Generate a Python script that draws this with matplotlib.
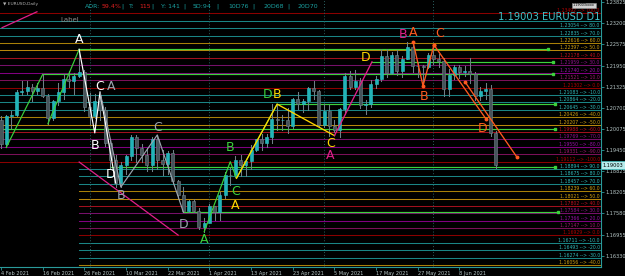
import numpy as np
import pandas as pd
import matplotlib
matplotlib.use("Agg")
import matplotlib.pyplot as plt
from matplotlib.transforms import blended_transform_factory

# EURUSD daily, 4 Feb 2021 .. 17 Jun 2021
opens = [1.2035, 1.1963, 1.2046, 1.2050, 1.2118, 1.2120, 1.2133, 1.2119, 1.2128, 1.2105,
         1.2040, 1.2090, 1.2118, 1.2155, 1.2150, 1.2165, 1.2175, 1.2074, 1.2047, 1.2091,
         1.2063, 1.1967, 1.1917, 1.1848, 1.1900, 1.1928, 1.1985, 1.1952, 1.1930, 1.1900,
         1.1978, 1.1916, 1.1904, 1.1937, 1.1853, 1.1812, 1.1766, 1.1795, 1.1764, 1.1717,
         1.1730, 1.1779, 1.1761, 1.1812, 1.1873, 1.1871, 1.1915, 1.1900, 1.1912, 1.1947,
         1.1978, 1.1966, 1.1983, 1.2037, 1.2034, 1.2034, 1.2015, 1.2097, 1.2081, 1.2089,
         1.2128, 1.2120, 1.2020, 1.2061, 1.2017, 1.2004, 1.2067, 1.2164, 1.2131, 1.2150,
         1.2078, 1.2081, 1.2142, 1.2155, 1.2223, 1.2174, 1.2226, 1.2180, 1.2215, 1.2249,
         1.2193, 1.2193, 1.2192, 1.2226, 1.2213, 1.2210, 1.2126, 1.2168, 1.2191, 1.2175,
         1.2180, 1.2171, 1.2106, 1.2120, 1.2125, 1.1996]
highs = [1.2047, 1.2050, 1.2060, 1.2124, 1.2149, 1.2150, 1.2142, 1.2144, 1.2169, 1.2110,
         1.2094, 1.2145, 1.2169, 1.2180, 1.2174, 1.2243, 1.2183, 1.2113, 1.2110, 1.2113,
         1.2072, 1.1977, 1.1931, 1.1910, 1.1931, 1.1990, 1.1989, 1.1962, 1.1952, 1.1985,
         1.1990, 1.1945, 1.1942, 1.1945, 1.1857, 1.1836, 1.1798, 1.1800, 1.1774, 1.1744,
         1.1786, 1.1780, 1.1820, 1.1880, 1.1893, 1.1928, 1.1930, 1.1916, 1.1960, 1.1979,
         1.1994, 1.1994, 1.2080, 1.2080, 1.2048, 1.2070, 1.2100, 1.2117, 1.2095, 1.2133,
         1.2150, 1.2124, 1.2080, 1.2078, 1.2035, 1.2071, 1.2173, 1.2180, 1.2181, 1.2158,
         1.2092, 1.2153, 1.2163, 1.2245, 1.2245, 1.2235, 1.2240, 1.2224, 1.2266, 1.2263,
         1.2206, 1.2196, 1.2232, 1.2254, 1.2229, 1.2218, 1.2185, 1.2196, 1.2196, 1.2194,
         1.2218, 1.2177, 1.2132, 1.2145, 1.2137, 1.2003]
lows = [1.1952, 1.1953, 1.2012, 1.2045, 1.2108, 1.2110, 1.2090, 1.2110, 1.2101, 1.2023,
        1.2034, 1.2078, 1.2096, 1.2133, 1.2112, 1.2161, 1.2062, 1.2023, 1.2040, 1.2033,
        1.1957, 1.1893, 1.1836, 1.1836, 1.1875, 1.1915, 1.1910, 1.1909, 1.1884, 1.1883,
        1.1890, 1.1873, 1.1875, 1.1845, 1.1803, 1.1761, 1.1763, 1.1762, 1.1711, 1.1704,
        1.1737, 1.1738, 1.1738, 1.1805, 1.1843, 1.1867, 1.1868, 1.1870, 1.1890, 1.1944,
        1.1945, 1.1955, 1.1965, 1.2006, 1.2005, 1.1995, 1.2011, 1.2068, 1.2059, 1.2065,
        1.2096, 1.2016, 1.2013, 1.1986, 1.1998, 1.1985, 1.2052, 1.2127, 1.2126, 1.2070,
        1.2051, 1.2074, 1.2129, 1.2150, 1.2162, 1.2171, 1.2167, 1.2160, 1.2213, 1.2176,
        1.2160, 1.2133, 1.2189, 1.2201, 1.2190, 1.2104, 1.2104, 1.2155, 1.2157, 1.2165,
        1.2144, 1.2093, 1.2092, 1.2095, 1.1986, 1.1892]
closes = opens[1:] + [1.19003]
dates = pd.bdate_range("2021-02-04", periods=len(opens))

# fibo levels (indicator levels, price -> %)
fib1_lvl = [100, 90, 80, 70, 60, 50, 40, 30, 20, 10, 0, -10, -20, -30, -40, -50, -60, -70, -80, -90, -100]
fib1_px = [1.23492, 1.23273, 1.23054, 1.22835, 1.22616, 1.22397, 1.22178, 1.21959, 1.21740, 1.21521,
           1.21302, 1.21083, 1.20864, 1.20645, 1.20426, 1.20207, 1.19988, 1.19769, 1.19550, 1.19331, 1.19112]
fib2_lvl = [90, 80, 70, 60, 50, 40, 30, 20, 10, 0, -10, -20, -30, -40]
fib2_px = [1.18894, 1.18675, 1.18457, 1.18239, 1.18021, 1.17802, 1.17584, 1.17366, 1.17147, 1.16929,
           1.16711, 1.16493, 1.16274, 1.16056]
hidden_lvl = 90  # label sits under the big symbol text

# harmonic patterns (bar index, price)
grn1_x, grn1_y = [1, 8], [1.1953, 1.2169]
grn2_x, grn2_y = [9, 15], [1.2023, 1.2243]
wht_x, wht_y = [15, 18, 19, 22], [1.2243, 1.1996, 1.2117, 1.1848]
gry_x, gry_y = [19, 23, 30, 35], [1.2117, 1.1836, 1.1990, 1.1762]
grn3_x, grn3_y = [39, 44, 45.2, 53], [1.1704, 1.1911, 1.1862, 1.2081]
yel_x, yel_y = [45.2, 53, 64], [1.1862, 1.2081, 1.1988]
mag_x, mag_y = [64, 71.2], [1.1988, 1.2206]
org_x, org_y = [79.1, 81, 83.1, 93.1], [1.2265, 1.2135, 1.2256, 1.2037]
org2_x, org2_y = [89.1, 99], [1.2146, 1.1925]
pink1_x, pink1_y = [0.2, 6.9], [1.2307, 1.2354]
pink2_x, pink2_y = [15, 34], [1.1910, 1.1694]

# green horizontal levels: (start, end, price)
hl_start = [8, 15, 71.2, 53, -1, 21, 35]
hl_end = [106, 105, 106, 106.3, 106.3, 106.3, 107]
hl_price = [1.2169, 1.2243, 1.2206, 1.2081, 1.2008, 1.1895, 1.1762]

yticks = [1.23825, 1.23200, 1.22575, 1.21950, 1.21325, 1.20700, 1.20075, 1.19450,
          1.18825, 1.18205, 1.17580, 1.16955, 1.16330]
date_ticks = [0, 8, 16, 24, 32, 40, 48, 56, 64, 72, 80, 88]
month_starts = [17, 40, 62, 83]

level_cols = {0: '#8b0000', 10: '#7a1058', 20: '#800080', 30: '#76106a', 40: '#a0101e',
              50: '#b8860b', 60: '#a88008', 70: '#1a8585', 80: '#1a8585', 90: '#1a8585'}
text_cols = {0: '#b00000', 10: '#a01870', 20: '#9a10a8', 30: '#90108a', 40: '#c01020',
             50: '#d0a010', 60: '#d0a010', 70: '#30b8b8', 80: '#30b8b8', 90: '#30b8b8'}

fig = plt.figure(figsize=(6.25, 2.76), dpi=100, facecolor='black')
ax = fig.add_axes([0, 9 / 276, 601 / 625, 267 / 276], facecolor='black')
xmin, xmax = -0.192, 115.16
ymin, ymax = 1.15998, 1.23888
ax.set_xlim(xmin, xmax)
ax.set_ylim(ymin, ymax)
tr = blended_transform_factory(ax.transAxes, ax.transData)

# fibo lines
for lvl, p in zip(fib1_lvl, fib1_px):
    k = lvl % 100
    ax.plot([xmin, xmax], [p, p], color=level_cols[k], lw=0.75, zorder=1)
    if lvl != hidden_lvl:
        ax.text(0.998, p, f"{p:.5f} --> {lvl:.1f}", transform=tr, ha='right', va='bottom',
                fontsize=3.3, color=text_cols[k], zorder=6)
for lvl, p in zip(fib2_lvl, fib2_px):
    k = lvl % 100
    ax.plot([15, xmax], [p, p], color=level_cols[k], lw=0.75, zorder=1)
    ax.text(0.998, p, f"{p:.5f} --> {lvl:.1f}", transform=tr, ha='right', va='bottom',
            fontsize=3.3, color=text_cols[k], zorder=6)

for m in month_starts:
    ax.axvline(m, color='#2a6060', lw=0.7, ls=(0, (1, 2)), zorder=1)

# green pattern levels
for s, e, p in zip(hl_start, hl_end, hl_price):
    ax.plot([s, e], [p, p], color='#3cd23c', lw=0.85, zorder=2)
    ax.plot([e], [p], marker='s', ms=1.6, color='#3cd23c', zorder=2)

# candles
bw = 0.58
for i, (o, h, l, c) in enumerate(zip(opens, highs, lows, closes)):
    up = c >= o
    ax.plot([i, i], [l, h], color='#6f7f86', lw=0.75, zorder=3)
    body_lo, body_h = min(o, c), max(abs(c - o), 0.00004)
    ax.add_patch(plt.Rectangle((i - bw / 2, body_lo), bw, body_h,
                               facecolor='#22b4b8' if up else '#46545b',
                               edgecolor='#2cc4c8' if up else '#74848b', lw=0.4, zorder=4))

# patterns
ax.plot(pink1_x, pink1_y, color='#e0208a', lw=0.9, zorder=5)
ax.plot(pink2_x, pink2_y, color='#e0208a', lw=0.9, zorder=5)
ax.plot(grn1_x, grn1_y, color='#3cd23c', lw=0.85, zorder=5)
ax.plot(grn2_x, grn2_y, color='#3cd23c', lw=0.85, zorder=5)
ax.plot(wht_x, wht_y, color='white', lw=0.85, zorder=5)
ax.plot(gry_x, gry_y, color='#9aa4ae', lw=0.85, zorder=5)
ax.plot(grn3_x, grn3_y, color='#3cd23c', lw=0.85, zorder=5)
ax.plot(yel_x, yel_y, color='#ffd700', lw=0.95, zorder=5)
ax.plot(mag_x, mag_y, color='#e0208a', lw=0.95, zorder=5)
ax.plot(org_x[:3], org_y[:3], color='#ff5a1f', lw=0.95, marker='o', ms=1.8, zorder=5)
ax.plot([org_x[2], org_x[3]], [org_y[2], org_y[3]], color='#ff5a1f', lw=0.95, marker='o', ms=1.8, zorder=5)
ax.plot(org2_x, org2_y, color='#ff5a1f', lw=0.95, marker='o', ms=1.8, zorder=5)

lab_kw = dict(fontsize=9, ha='center', va='center', zorder=7)
def lab(x, p, s, c):
    ax.text(x, p, s, color=c, **lab_kw)

lab(15, 1.2271, 'A', 'white')
lab(18, 1.1959, 'B', 'white')
lab(19, 1.2133, 'C', 'white')
lab(21, 1.1872, 'D', 'white')
lab(21.1, 1.2133, 'A', '#9aa4ae')
lab(23, 1.1810, 'B', '#9aa4ae')
lab(30, 1.2013, 'C', '#9aa4ae')
lab(35, 1.1726, 'D', '#9aa4ae')
lab(39, 1.1680, 'A', '#3cd23c')
lab(44, 1.1954, 'B', '#3cd23c')
lab(45, 1.1822, 'C', '#3cd23c')
lab(51.2, 1.2110, 'D', '#3cd23c')
lab(45, 1.1783, 'A', '#ffd700')
lab(53, 1.2110, 'B', '#ffd700')
lab(63.2, 1.1966, 'C', '#ffd700')
lab(70, 1.2218, 'D', '#ffd700')
lab(63.2, 1.1930, 'A', '#e0208a')
lab(77.2, 1.2288, 'B', '#e0208a')
lab(79.1, 1.2294, 'A', '#ff5a1f')
lab(81.2, 1.2103, 'B', '#ff5a1f')
lab(84.1, 1.2291, 'C', '#ff5a1f')
lab(92.5, 1.2010, 'D', '#ff5a1f')

# header texts
fig.text(3 / 625, 1 - 4 / 276, '\u25bc EURUSD,Daily', fontsize=3.2, color='#b0b0b0', va='center')
fig.text(60 / 625, 1 - 20 / 276, 'Label', fontsize=5, color='#8a8a8a', va='center')
hdr = [(85, 'ADR:', '#1aa0a0'), (102, '59.4%', '#e02020'), (121, '|', '#1aa0a0'),
       (129, 'T:', '#1aa0a0'), (139, '115', '#e02020'), (151.5, '|', '#1aa0a0'),
       (161, 'Y: 141', '#1aa0a0'), (183.5, '|', '#1aa0a0'), (193, '5D:94', '#1aa0a0'),
       (216, '|', '#1aa0a0'), (228, '10D76', '#1aa0a0'), (252, '|', '#1aa0a0'),
       (263, '20D68', '#1aa0a0'), (287, '|', '#1aa0a0'), (297, '20D70', '#1aa0a0')]
for px, s, c in hdr:
    fig.text(px / 625, 1 - 6 / 276, s, fontsize=4.5, color=c, va='center')
fig.text(600 / 625, 1 - 17 / 276, f"{closes[-1]:.5f} EURUSD D1", fontsize=7.1,
         color='#40c4cc', ha='right', va='center')
fig.text(584 / 625, 1 - 5.5 / 276, f"{closes[-1]:.5f}xxxx", fontsize=2.4, color='black',
         ha='center', va='center', bbox=dict(boxstyle='square,pad=0.2', fc='#d0d0d0', ec='#909090', lw=0.4))

# axes styling
ax.yaxis.tick_right()
ax.set_yticks(yticks)
ax.set_yticklabels([f"{t:.5f}" for t in yticks])
ax.set_xticks(date_ticks)
ax.set_xticklabels([f"{dates[i].day} {dates[i]:%b %Y}" for i in date_ticks], ha='left')
ax.tick_params(axis='both', colors='#2a9a9a', labelcolor='#b8c8c8', labelsize=3.6,
               length=2, width=0.6, pad=1)
for s in ['top', 'left']:
    ax.spines[s].set_visible(False)
for s in ['right', 'bottom']:
    ax.spines[s].set_color('#2a9a9a')
    ax.spines[s].set_linewidth(0.8)

# current price box
ax.text(1.003, closes[-1], f"{closes[-1]:.5f}", transform=tr, fontsize=3.6, color='black',
        ha='left', va='center', clip_on=False, zorder=8,
        bbox=dict(boxstyle='square,pad=0.3', fc='#b8ecec', ec='#40c0c0', lw=0.5))

fig.savefig('out.png', dpi=100, facecolor='black')
